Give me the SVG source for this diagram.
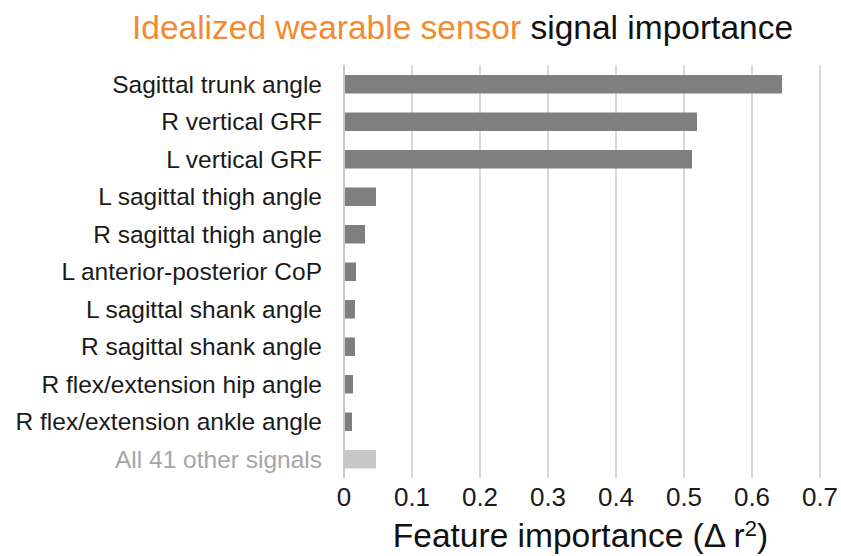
<svg xmlns="http://www.w3.org/2000/svg" width="841" height="556" viewBox="0 0 841 556">
<style>
.t{font-family:"Liberation Sans",Arial,sans-serif;}
.lbl{font-size:24.5px;fill:#1a1a1a;text-anchor:end;}
.tick{font-size:26px;fill:#1a1a1a;text-anchor:middle;}
.grid{stroke:#d9d9d9;stroke-width:2;}
.bar{fill:#7f7f7f;}
.bar2{fill:#c8c8c8;}
</style>
<rect width="841" height="556" fill="#ffffff"/>
<g id="title"><text class="t" x="462.5" y="39" font-size="33.5" text-anchor="middle"><tspan fill="#f28a30">Idealized wearable sensor</tspan><tspan fill="#111111"> signal importance</tspan></text></g>
<g id="gridlines">
<line class="grid" x1="412" y1="65" x2="412" y2="478"/>
<line class="grid" x1="480" y1="65" x2="480" y2="478"/>
<line class="grid" x1="548" y1="65" x2="548" y2="478"/>
<line class="grid" x1="616" y1="65" x2="616" y2="478"/>
<line class="grid" x1="684" y1="65" x2="684" y2="478"/>
<line class="grid" x1="752" y1="65" x2="752" y2="478"/>
<line class="grid" x1="820" y1="65" x2="820" y2="478"/>
<line x1="344" y1="65" x2="344" y2="478" stroke="#c8c8c8" stroke-width="2"/>
</g>
<g id="bars">
<rect class="bar" x="345" y="75" width="437" height="18.5"/>
<rect class="bar" x="345" y="112.5" width="352" height="18.5"/>
<rect class="bar" x="345" y="150" width="347" height="18.5"/>
<rect class="bar" x="345" y="187.5" width="31" height="18.5"/>
<rect class="bar" x="345" y="225" width="20" height="18.5"/>
<rect class="bar" x="345" y="262.5" width="11" height="18.5"/>
<rect class="bar" x="345" y="300" width="10" height="18.5"/>
<rect class="bar" x="345" y="337.5" width="10" height="18.5"/>
<rect class="bar" x="345" y="375" width="8" height="18.5"/>
<rect class="bar" x="345" y="412.5" width="7" height="18.5"/>
<rect class="bar2" x="345" y="450" width="31" height="18.5"/>
</g>
<g id="labels" class="t">
<text class="lbl" x="322" y="92.5">Sagittal trunk angle</text>
<text class="lbl" x="322" y="130">R vertical GRF</text>
<text class="lbl" x="322" y="167.5">L vertical GRF</text>
<text class="lbl" x="322" y="205">L sagittal thigh angle</text>
<text class="lbl" x="322" y="242.5">R sagittal thigh angle</text>
<text class="lbl" x="322" y="280">L anterior-posterior CoP</text>
<text class="lbl" x="322" y="317.5">L sagittal shank angle</text>
<text class="lbl" x="322" y="355">R sagittal shank angle</text>
<text class="lbl" x="322" y="392.5">R flex/extension hip angle</text>
<text class="lbl" x="322" y="430">R flex/extension ankle angle</text>
<text class="lbl" x="322" y="467.5" style="fill:#a6a6a6">All 41 other signals</text>
</g>
<g id="axis" class="t">
<text class="tick" x="344" y="506">0</text>
<text class="tick" x="412" y="506">0.1</text>
<text class="tick" x="480" y="506">0.2</text>
<text class="tick" x="548" y="506">0.3</text>
<text class="tick" x="616" y="506">0.4</text>
<text class="tick" x="684" y="506">0.5</text>
<text class="tick" x="752" y="506">0.6</text>
<text class="tick" x="820" y="506">0.7</text>
<text x="580.5" y="547" font-size="33.5" text-anchor="middle" fill="#111111">Feature importance (Δ r<tspan font-size="22" dy="-11">2</tspan><tspan dy="11">)</tspan></text>
</g>
</svg>
